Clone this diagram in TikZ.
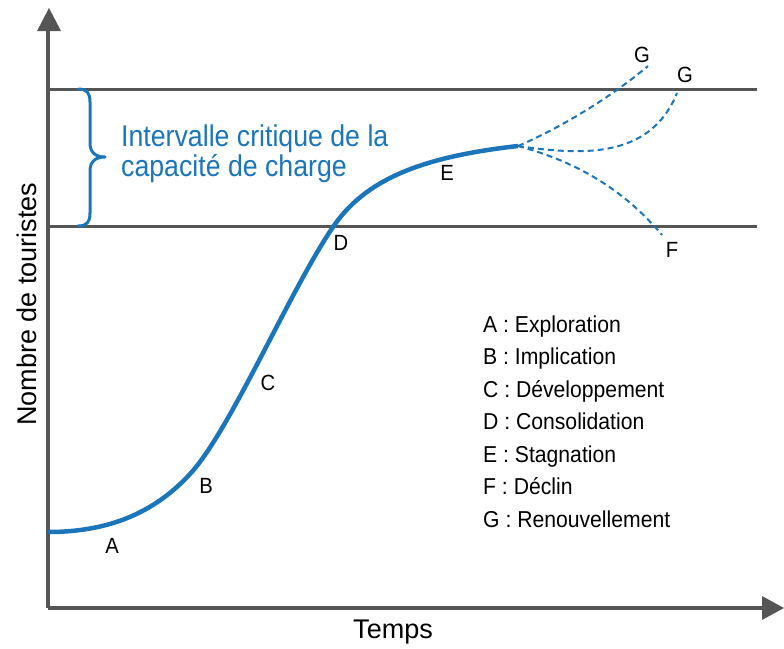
\documentclass[tikz,border=0pt]{standalone}
\usepackage{fontspec}
\setmainfont{Liberation Sans}
\newfontfamily\condA{Liberation Sans}[FakeStretch=0.89]
\newfontfamily\condB{Liberation Sans}[FakeStretch=0.92]
\definecolor{cblue}{HTML}{1B75BB}
\definecolor{axgray}{HTML}{555555}
\tikzset{
  axisline/.style={draw=axgray, line width=3.5pt},
  refline/.style={draw=axgray, line width=3pt},
  mainline/.style={draw=cblue, line width=4.5pt, line join=round},
  dashline/.style={draw=cblue, line width=2pt, dash pattern=on 6pt off 4pt},
  stagelabel/.style={inner sep=0pt, font=\condB\fontsize{22}{22}\selectfont, text=black},
  legendline/.style={inner sep=0pt, anchor=base west, font=\condB\fontsize{23}{23}\selectfont, text=black},
  titletext/.style={inner sep=0pt, anchor=base west, align=left, font=\condA\fontsize{30}{26}\selectfont, text=cblue},
  axislabel/.style={inner sep=0pt, font=\fontsize{27}{27}\selectfont, text=black},
}
\begin{document}
\begin{tikzpicture}[x=1pt,y=-1pt]
\useasboundingbox (0,0) rectangle (784,648);
% reference lines
\coordinate (h1l) at (48,89);
\coordinate (h1r) at (757,89);
\coordinate (h2l) at (48,226);
\coordinate (h2r) at (757,226);
\draw[refline] (h1l) -- (h1r);
\draw[refline] (h2l) -- (h2r);
% axes
\coordinate (orig) at (48,608);
\coordinate (ytop) at (48,28);
\coordinate (xend) at (764,608);
\draw[axisline] (orig) -- (ytop);
\draw[axisline] (orig) -- (xend);
\fill[axgray] (37,31) -- (49,8) -- (61,31) -- cycle;
\fill[axgray] (762,596) -- (784,608) -- (762,620) -- cycle;
% brace
\draw[cblue, line width=3pt, line cap=round, line join=round]
  (78,89) .. controls (87,89) and (90,93) .. (90,102) -- (90,143)
  .. controls (90,152) and (95,157) .. (105,157)
  .. controls (95,157) and (90,162) .. (90,171) -- (90,213)
  .. controls (90,222) and (87,226) .. (78,226);
% title text (base = last line)
\node[titletext] (title) at (121,176) {Intervalle critique de la\\capacité de charge};
% main curve
\coordinate (cstart) at (48,532);
\coordinate (cb) at (190,474);
\coordinate (cd) at (333,227);
\coordinate (split) at (518,146);
\draw[mainline] (cstart) .. controls (110,532) and (155,512) .. (cb)
  .. controls (230,431) and (290,290) .. (cd)
  .. controls (365,180) and (420,157) .. (split);
% branches
\coordinate (g1end) at (648,66);
\coordinate (g2end) at (677,93);
\coordinate (fend) at (662,235);
\draw[dashline] (split) .. controls (560,128) and (610,98) .. (g1end);
\draw[dashline] (split) .. controls (580,155) and (650,160) .. (g2end);
\draw[dashline] (split) .. controls (570,160) and (620,185) .. (fend);
% stage labels
\node[stagelabel] (lA) at (112,546) {A};
\node[stagelabel] (lB) at (206,486) {B};
\node[stagelabel] (lC) at (268,383) {C};
\node[stagelabel] (lD) at (341,243) {D};
\node[stagelabel] (lE) at (447,173) {E};
\node[stagelabel] (lG1) at (642,55) {G};
\node[stagelabel] (lG2) at (685,75) {G};
\node[stagelabel] (lF) at (672,250) {F};
% legend
\node[legendline] (k1) at (483,332) {A : Exploration};
\node[legendline] (k2) at (483,364.5) {B : Implication};
\node[legendline] (k3) at (483,397) {C : Développement};
\node[legendline] (k4) at (483,429.5) {D : Consolidation};
\node[legendline] (k5) at (483,462) {E : Stagnation};
\node[legendline] (k6) at (483,494.5) {F : Déclin};
\node[legendline] (k7) at (483,527) {G : Renouvellement};
% axis labels
\node[axislabel, rotate=90] (ylab) at (27,304) {Nombre de touristes};
\node[axislabel] (xlab) at (393,632) {Temps};
\end{tikzpicture}
\end{document}
